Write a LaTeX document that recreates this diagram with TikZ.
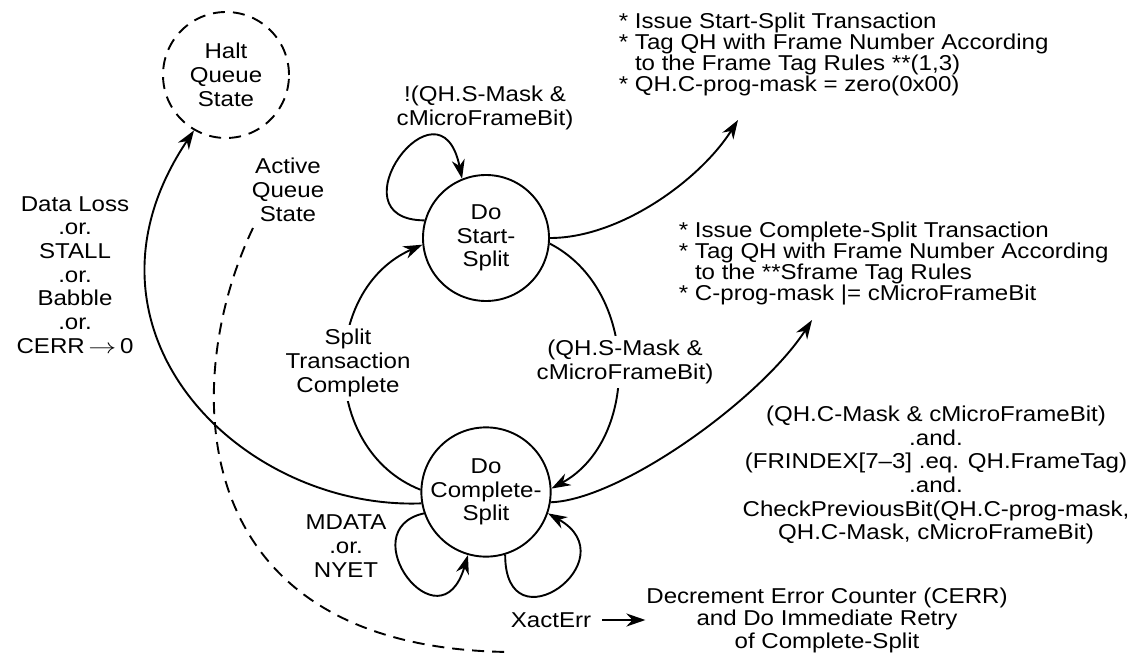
\documentclass[tikz,border=0pt]{standalone}
\usepackage{fontspec}
\setmainfont{Liberation Sans}[FakeStretch=1.12]
\usetikzlibrary{arrows.meta}
\newcommand\fs{\fontsize{21.5}{23.7}\selectfont}
\newcommand\fsb{\fontsize{21.5}{21}\selectfont}
\begin{document}
\begin{tikzpicture}[x=1pt,y=-1pt, line width=1.9pt,
  state/.style={circle, draw, minimum size=126pt, inner sep=0pt, align=center, font=\fs},
  lbl/.style={align=center, inner sep=2pt, font=\fs},
  wlbl/.style={lbl, fill=white, inner sep=4pt},
  blk/.style={align=left, inner sep=0pt, font=\fsb, anchor=west},
  dsh/.style={dash pattern=on 12pt off 8pt},
  >={Stealth[length=19pt,width=13pt,inset=6pt]}]
\useasboundingbox (0,0) rectangle (1132,655);

% states
\node[state, dsh] (halt) at (226,75) {Halt\\Queue\\State};
\node[state] (ss) at (486,238) {Do\\Start-\\Split};
\node[state] (cs) at (486,492) {Do\\Complete-\\Split};

% free ends
\coordinate (aqsStart) at (253,228);
\coordinate (dEnd) at (512,652);
\coordinate (t1) at (738,120);
\coordinate (t2) at (812,320);

% labels without crossing
\node[lbl] (aqs) at (288,190) {Active\\Queue\\State};
\node[lbl] (dl) at (75,275) {Data Loss\\.or.\\STALL\\.or.\\Babble\\.or.\\CERR\,\scalebox{1.35}[1]{$\rightarrow$}\,0};
\node[lbl] (ssl) at (485,108) {!(QH.S-Mask \&\\cMicroFrameBit)};
\node[blk] (b1) at (618,54) {* Issue Start-Split Transaction\\* Tag QH with Frame Number According\\\phantom{*\ }to the Frame Tag Rules **(1,3)\\* QH.C-prog-mask = zero(0x00)};
\node[blk] (b2) at (678,263) {* Issue Complete-Split Transaction\\* Tag QH with Frame Number According\\\phantom{*\ }to the **Sframe Tag Rules\\* C-prog-mask |= cMicroFrameBit};
\node[lbl] (b3) at (936,475) {(QH.C-Mask \& cMicroFrameBit)\\.and.\\(FRINDEX[7--3] .eq. QH.FrameTag)\\.and.\\CheckPreviousBit(QH.C-prog-mask,\\QH.C-Mask, cMicroFrameBit)};
\node[lbl] (md) at (346,546) {MDATA\\.or.\\NYET};
\node[lbl, inner sep=0pt] (xe) at (551,620) {XactErr};
\node[lbl, inner sep=0pt, font=\fontsize{21.5}{22.5}\selectfont] (dec) at (827,620) {Decrement Error Counter (CERR)\\and Do Immediate Retry\\of Complete-Split};

% connectors
\draw[->] (cs.190) .. controls (240,510) and (60,330) .. (halt.240);
\draw[dsh] (aqsStart) .. controls (180,380) and (180,650) .. (dEnd);
\draw[->] (ss.-5) .. controls (640,290) and (640,440) .. (cs.3);
\draw[->] (cs.178) .. controls (320,450) and (320,290) .. (ss.186);
\draw[->] (ss.164) .. controls (330,220) and (440,70) .. (ss.112);
\draw[->] (ss.0) .. controls (620,238) and (700,180) .. (t1);
\draw[->] (cs.-9) .. controls (620,500) and (760,400) .. (t2);
\draw[->] (cs.199) .. controls (350,530) and (440,650) .. (cs.254);
\draw[->] (cs.-73) .. controls (505,650) and (630,560) .. (cs.-19);
\draw[->, line width=2.3pt] ([xshift=10pt]xe.east) -- (dec.west);

% labels sitting on connectors
\node[wlbl] (stc) at (348,363) {Split\\Transaction\\Complete};
\node[wlbl] (ssm) at (625,362) {(QH.S-Mask \&\\cMicroFrameBit)};
\end{tikzpicture}
\end{document}
